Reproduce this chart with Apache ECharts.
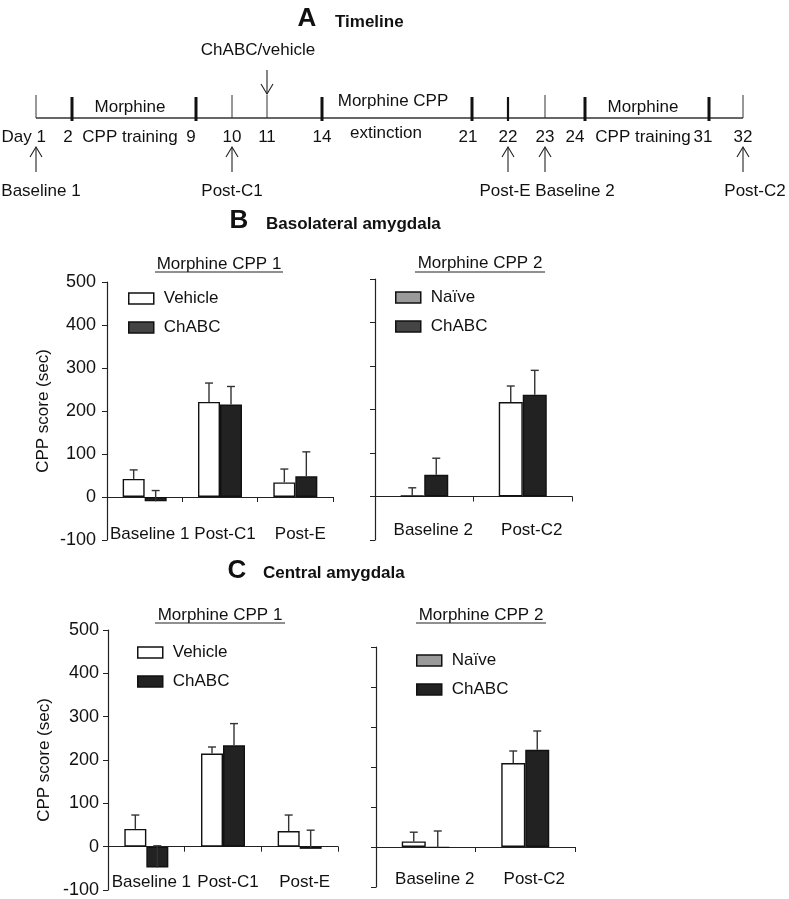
<!DOCTYPE html>
<html>
<head>
<meta charset="utf-8">
<script src="https://cdn.jsdelivr.net/npm/echarts@6/dist/echarts.min.js"></script>
<style>
html,body{margin:0;padding:0;background:#fff;}
#chart{width:789px;height:899px;}
</style>
</head>
<body>
<div id="chart"></div>
<script>
// ---------------- DATA ----------------
// Panel B (Basolateral amygdala)
const catsCPP1 = ['Baseline 1', 'Post-C1', 'Post-E'];
const catsCPP2 = ['Baseline 2', 'Post-C2'];
const blaVehicle    = [42, 221, 34];
const blaVehicleErr = [21, 44, 31];
const blaChabc1     = [-10, 215, 48];
const blaChabc1Err  = [25, 42, 57];
const blaNaive      = [2, 217];
const blaNaiveErr   = [18, 37];
const blaChabc2     = [50, 234];
const blaChabc2Err  = [38, 56];
// Panel C (Central amygdala)
const ceaVehicle    = [41, 215, 36];
const ceaVehicleErr = [32, 15, 37];
const ceaChabc1     = [-48, 234, -5];
const ceaChabc1Err  = [50, 50, 43];
const ceaNaive      = [14, 210];
const ceaNaiveErr   = [23, 30];
const ceaChabc2     = [-2, 243];
const ceaChabc2Err  = [42, 47];
// Y axis ticks
const yMin = -100, yMax = 500, yStep = 100;

// Timeline (panel A)
const tlDays      = [1, 2, 9, 10, 11, 14, 21, 22, 23, 24, 31, 32];
const tlDayLabels = ['Day 1', '2', '9', '10', '11', '14', '21', '22', '23', '24', '31', '32'];
const tlEventsBelow = [
  {day: 1, label: 'Baseline 1'},
  {day: 10, label: 'Post-C1'},
  {day: 22, label: 'Post-E'},
  {day: 23, label: 'Baseline 2'},
  {day: 32, label: 'Post-C2'}
];
const tlEventAbove = {day: 11, label: 'ChABC/vehicle'};
const tlPhases = [
  {from: 2, to: 9, above: 'Morphine', below: 'CPP training'},
  {from: 14, to: 21, above: 'Morphine CPP', below: 'extinction'},
  {from: 24, to: 31, above: 'Morphine', below: 'CPP training'}
];

// ---------------- LAYOUT / STYLE ----------------
const FONT = '"Liberation Sans", Arial, Helvetica, sans-serif';
const tlLayoutX   = [36, 72, 196, 232, 267, 322, 472, 508, 545, 585, 709, 743];
const tlThick     = [0, 3, 3, 0, 0, 3, 3, 2.2, 0, 3, 3, 0];
const tlNumShift  = [0, -4, -5, 0, 0, 0, -4, 0, 0, -10, -6, 0];
const tlEvtShift  = {1: 5, 10: 0, 22: -3, 23: 30, 32: 12};
const TL_Y = 118;

const chart = echarts.init(document.getElementById('chart'), null, {renderer: 'canvas'});

function xOfDay(d) { return tlLayoutX[tlDays.indexOf(d)]; }

function txt(text, x, y, size, opts) {
  opts = opts || {};
  return {
    type: 'text', silent: true, z: 10,
    style: {
      text: text, x: x, y: y,
      font: (opts.bold ? 'bold ' : '') + size + 'px ' + FONT,
      fill: '#111',
      textAlign: opts.align || 'center',
      textVerticalAlign: 'middle'
    }
  };
}
function line(x1, y1, x2, y2, w, color) {
  return {type: 'line', silent: true, z: 10,
    shape: {x1: x1, y1: y1, x2: x2, y2: y2},
    style: {stroke: color || '#222', lineWidth: w || 1}};
}
function arrow(x, y1, y2) { // head at y1
  const dir = y2 > y1 ? 1 : -1;
  return [
    line(x, y1, x, y2, 1.1),
    {type: 'polyline', silent: true, z: 10,
     shape: {points: [[x - 6, y1 + dir * 10], [x, y1], [x + 6, y1 + dir * 10]]},
     style: {stroke: '#222', lineWidth: 1.1, fill: null}}
  ];
}

const graphics = [];
// Panel A
graphics.push(txt('A', 307, 19, 26, {bold: true}));
graphics.push(txt('Timeline', 335, 22, 17, {bold: true, align: 'left'}));
graphics.push(line(tlLayoutX[0], TL_Y, tlLayoutX[tlLayoutX.length - 1], TL_Y, 1.3, '#333'));
tlDays.forEach((d, i) => {
  const x = tlLayoutX[i];
  if (tlThick[i]) graphics.push(line(x, 97, x, 121, tlThick[i], '#111'));
  else graphics.push(line(x, 95, x, TL_Y, 1, '#333'));
  if (i === 0) graphics.push(txt(tlDayLabels[i], x + 10, 137, 17, {align: 'right'}));
  else graphics.push(txt(tlDayLabels[i], x + tlNumShift[i], 137, 17));
});
tlEventsBelow.forEach(e => {
  const x = xOfDay(e.day);
  arrow(x, 147, 172).forEach(g => graphics.push(g));
  graphics.push(txt(e.label, x + (tlEvtShift[e.day] || 0), 191, 17));
});
{
  const x = xOfDay(tlEventAbove.day);
  arrow(x, 94, 70).forEach(g => graphics.push(g));
  graphics.push(txt(tlEventAbove.label, x - 9, 50, 17));
}
tlPhases.forEach((p, k) => {
  const mid = (xOfDay(p.from) + xOfDay(p.to)) / 2;
  graphics.push(txt(p.above, mid - 4, k === 1 ? 101 : 107, 17));
  graphics.push(txt(p.below, mid - (k === 1 ? 11 : 4), k === 1 ? 133 : 137, 17));
});

// Section titles
graphics.push(txt('B', 239, 221, 26, {bold: true}));
graphics.push(txt('Basolateral amygdala', 266, 224, 17, {bold: true, align: 'left'}));
graphics.push(txt('C', 237, 571, 26, {bold: true}));
graphics.push(txt('Central amygdala', 263, 573, 17, {bold: true, align: 'left'}));

// Sub titles with underline
[
  ['Morphine CPP 1', 219, 264, 155, 283, 272],
  ['Morphine CPP 2', 480, 263, 415, 545, 272],
  ['Morphine CPP 1', 220, 615, 155, 285, 623],
  ['Morphine CPP 2', 481, 615, 416, 546, 623]
].forEach(s => {
  graphics.push(txt(s[0], s[1], s[2], 17));
  graphics.push(line(s[3], s[5], s[4], s[5], 1.2, '#222'));
});

// ---------------- CHART PANELS ----------------
const grids = [
  {left: 107, top: 282, width: 226, height: 258, outerBoundsMode: 'none', containLabel: false},
  {left: 375, top: 279, width: 197, height: 261, outerBoundsMode: 'none', containLabel: false},
  {left: 108, top: 630, width: 230, height: 260, outerBoundsMode: 'none', containLabel: false},
  {left: 376, top: 647, width: 199, height: 240, outerBoundsMode: 'none', containLabel: false}
];
const panelCats = [catsCPP1, catsCPP2, catsCPP1, catsCPP2];
const labelMargins = [-14, -18, -16, -16];
const labelShift = [10, 18, 10, 18];

const xAxes = panelCats.map((cats, i) => ({
  type: 'category', gridIndex: i, data: cats,
  axisLine: {onZero: true, lineStyle: {color: '#222', width: 1.2}},
  axisTick: {show: true, length: 5, lineStyle: {color: '#222'}},
  axisLabel: {fontSize: 17, fontFamily: FONT, color: '#111', margin: labelMargins[i],
              padding: [0, 0, 0, labelShift[i]], interval: 0, hideOverlap: false}
}));
const yAxes = grids.map((g, i) => ({
  type: 'value', gridIndex: i, min: yMin, max: yMax, interval: yStep,
  splitLine: {show: false},
  axisLine: {show: true, onZero: false, lineStyle: {color: '#222', width: 1.2}},
  axisTick: {show: true, length: 5, lineStyle: {color: '#222'}},
  axisLabel: {show: i % 2 === 0, fontSize: 18, fontFamily: FONT, color: '#111', margin: i === 0 ? 11 : 9},
  name: i % 2 === 0 ? 'CPP score (sec)' : '',
  nameLocation: 'middle', nameGap: 55,
  nameTextStyle: {fontSize: 17, fontFamily: FONT, color: '#111'}
}));

const barWidths = [22, 24, 22, 24];
const series = [];
function addPanel(idx, names, vals, errs, colors) {
  const bw = barWidths[idx];
  names.forEach((n, k) => {
    series.push({
      type: 'bar', name: n, xAxisIndex: idx, yAxisIndex: idx,
      data: vals[k], barWidth: bw, barGap: '0%',
      itemStyle: {color: colors[k], borderColor: '#111', borderWidth: 1.4},
      emphasis: {disabled: true}, z: 2
    });
    const off = (k === 0 ? -1 : 1) * bw / 2;
    series.push({
      type: 'custom', name: n + ' err', xAxisIndex: idx, yAxisIndex: idx, z: 3,
      data: vals[k].map((v, j) => [j, v, errs[k][j]]),
      encode: {x: 0, y: 1},
      renderItem: function (params, api) {
        const c = api.value(0), v = api.value(1), e = api.value(2);
        const p0 = api.coord([c, v]);
        const p1 = api.coord([c, v + e]);
        const x = p0[0] + off;
        return {
          type: 'group',
          children: [
            {type: 'line', shape: {x1: x, y1: p0[1], x2: x, y2: p1[1]}, style: {stroke: '#333', lineWidth: 1.4}},
            {type: 'line', shape: {x1: x - 4, y1: p1[1], x2: x + 4, y2: p1[1]}, style: {stroke: '#333', lineWidth: 1.4}}
          ]
        };
      }
    });
  });
}
addPanel(0, ['Vehicle', 'ChABC'], [blaVehicle, blaChabc1], [blaVehicleErr, blaChabc1Err], ['#ffffff', '#222222']);
addPanel(1, ['Naïve', 'ChABC'], [blaNaive, blaChabc2], [blaNaiveErr, blaChabc2Err], ['#ffffff', '#222222']);
addPanel(2, ['Vehicle', 'ChABC'], [ceaVehicle, ceaChabc1], [ceaVehicleErr, ceaChabc1Err], ['#ffffff', '#222222']);
addPanel(3, ['Naïve', 'ChABC'], [ceaNaive, ceaChabc2], [ceaNaiveErr, ceaChabc2Err], ['#ffffff', '#222222']);

function legend(left, top, items) {
  return {
    left: left, top: top, orient: 'vertical', padding: 0, itemGap: 12,
    itemWidth: 25, itemHeight: 11, selectedMode: false, icon: 'rect',
    textStyle: {fontSize: 17, fontFamily: FONT, color: '#111', lineHeight: 17, padding: [0, 0, 0, 5]},
    data: items.map(it => ({name: it[0], icon: 'rect',
      itemStyle: {color: it[1], borderColor: '#111', borderWidth: 1.5}}))
  };
}
const legends = [
  legend(128, 290, [['Vehicle', '#ffffff'], ['ChABC', '#444444']]),
  legend(395, 289, [['Naïve', '#9a9a9a'], ['ChABC', '#444444']]),
  legend(137, 644, [['Vehicle', '#ffffff'], ['ChABC', '#222222']]),
  legend(416, 652, [['Naïve', '#9a9a9a'], ['ChABC', '#222222']])
];

chart.setOption({
  backgroundColor: '#ffffff',
  animation: false,
  textStyle: {fontFamily: FONT},
  grid: grids,
  xAxis: xAxes,
  yAxis: yAxes,
  legend: legends,
  series: series,
  graphic: graphics
});
</script>
</body>
</html>
